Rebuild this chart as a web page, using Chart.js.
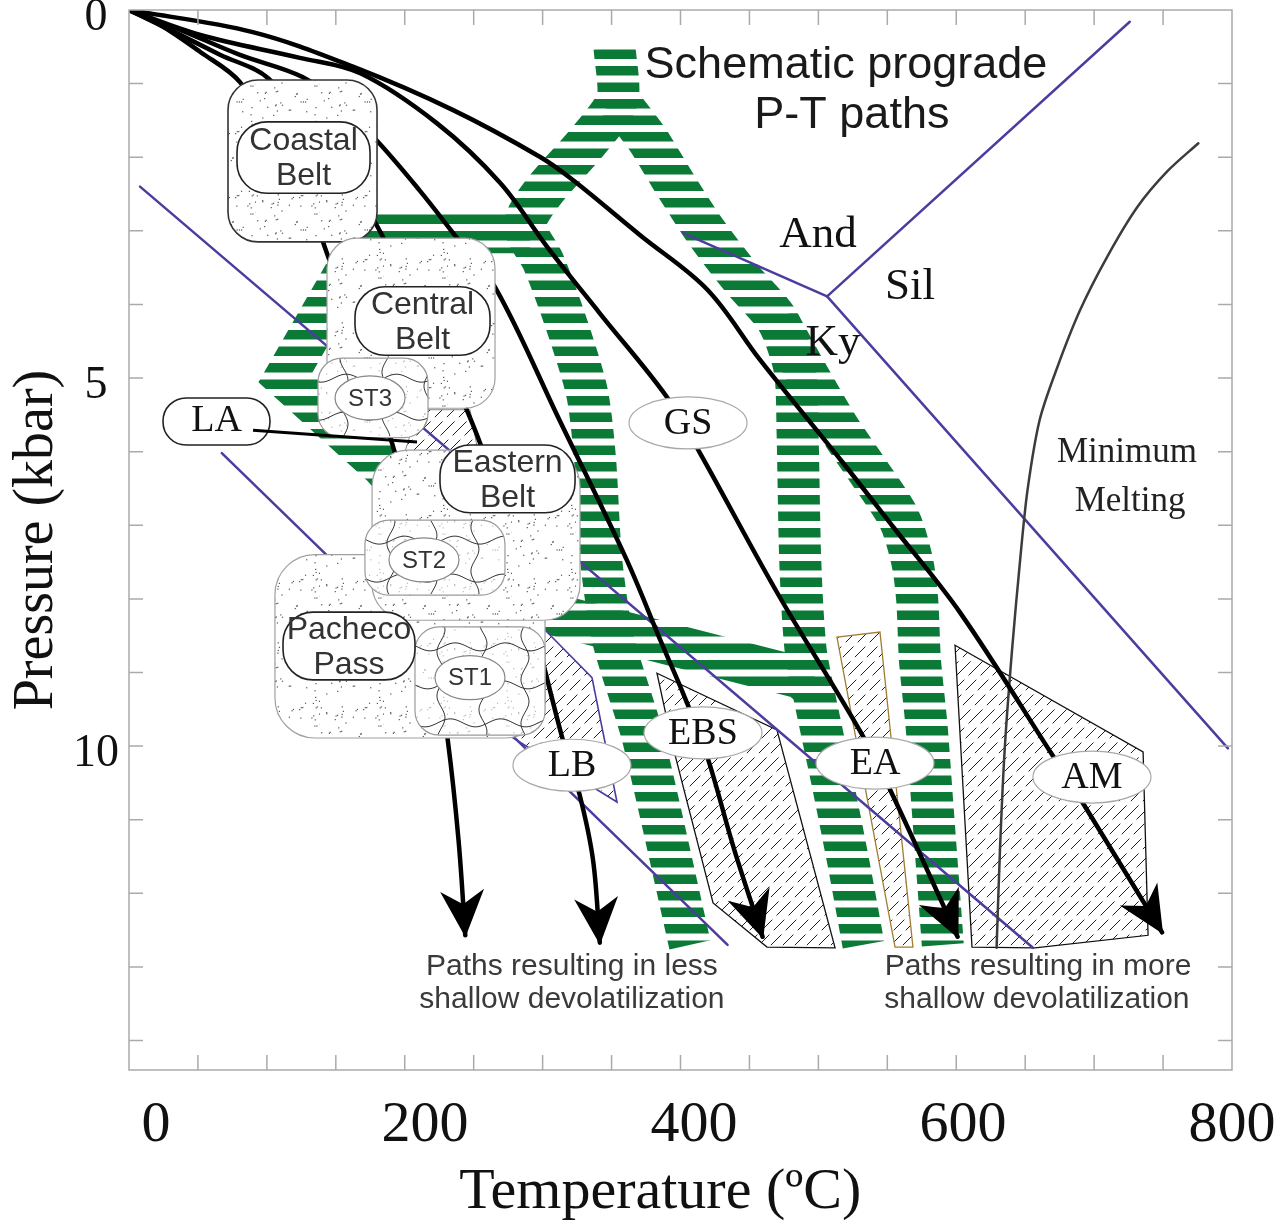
<!DOCTYPE html>
<html>
<head>
<meta charset="utf-8">
<title>Prograde P-T paths</title>
<script src="https://cdn.jsdelivr.net/npm/chart.js@4.4.1/dist/chart.umd.min.js"></script>
<style>
  html, body { margin: 0; padding: 0; background: #fff; }
  #wrap { width: 1287px; height: 1228px; }
</style>
</head>
<body>
<div id="wrap"><canvas id="pt" width="1287" height="1228"></canvas></div>
<script>
// Axis ticks
const xTickValues = [0, 200, 400, 600, 800];
const yTickValues = [0, 5, 10];

// Geotherms [T degC, P kbar], last point is the arrow tip
const geotherm1 = [[-20, 0], [3, 0.2], [33, 0.57], [62.5, 0.98], [100, 2.04], [129, 3.4], [176, 5.91], [200, 7.74], [217, 9.92], [225, 11.28], [230, 12.57]];
const geotherm2 = [[-20, 0], [10.5, 0.27], [48, 0.61], [83, 0.92], [129, 1.9], [167, 3.02], [196, 4.21], [231, 5.43], [263, 7.06], [280, 8.29], [302, 9.88], [315, 10.66], [325, 11.55], [330, 12.67]];
const geotherm3 = [[-20, 0], [18, 0.27], [62.5, 0.61], [109, 0.91], [137, 1.29], [164, 1.77], [196, 2.45], [221, 3.03], [252, 3.76], [300, 5.57], [350, 7.47], [375, 8.56], [393, 9.33], [410, 10.15], [430, 11.41], [451, 12.59]];
const geotherm4 = [[-20, 0], [33, 0.34], [107, 0.65], [152, 0.86], [209, 1.54], [256, 2.35], [291, 3.22], [330, 4.12], [380, 5.26], [404.5, 6.02], [462, 7.92], [523, 9.78], [546, 10.6], [596, 12.59]];
const geotherm5 = [[-20, 0], [72, 0.3], [146.5, 0.77], [221, 1.36], [286, 2.0], [310, 2.31], [360, 3.06], [410, 3.8], [449, 4.75], [509, 6.11], [548, 7.02], [598, 8.19], [665, 10.08], [689, 10.77], [748, 12.53]];

// Schematic prograde paths (striped bands)
const pathApex = [[341, 0.52], [343, 1.22], [319, 1.83], [289, 2.45], [274, 2.92], [288, 3.42], [306, 4.31], [320.5, 5.2], [326.5, 6.11], [331, 7.47], [340, 8.56], [362, 9.88], [397, 12.7]];
const pathWest = [[278, 3.02], [158, 3.02], [96, 5.0], [168, 6.19], [233.5, 7.54], [289, 8.18], [479, 9.07], [485, 9.16]];
const pathEast = [[343, 1.22], [366, 1.77], [384, 2.31], [408, 2.99], [436.5, 3.67], [462, 4.21], [475, 4.89], [477, 5.71], [479, 7.47], [483, 8.69], [490, 9.37], [502.6, 10.46], [514.5, 11.55], [526, 12.7]];
const pathEastBranch = [[462, 4.21], [482.5, 4.89], [507, 5.66], [529, 6.25], [552, 6.89], [562, 7.47], [566, 8.02], [568, 8.83], [573, 9.74], [577, 10.73], [585, 12.7]];

// Facies boundaries and aluminosilicate reactions
const boundaryUpper = [[-11.8, 2.4], [652, 12.74]];
const boundaryLower = [[49, 6.02], [425, 12.7]];
const andKy = [[392, 3.03], [499, 3.89]];
const andSil = [[499, 3.89], [724, 0.16]];
const kySil = [[499, 3.89], [797, 10.03]];
const minMelting = [[625, 12.74], [627.5, 11.41], [631, 10.05], [636.5, 8.69], [642.5, 7.47], [648, 6.52], [657, 5.57], [670, 4.86], [687, 4.08], [707, 3.36], [729.5, 2.68], [752, 2.19], [775, 1.81]];

// Hatched facies fields
const fieldEBS = [[372.5, 9.01], [461.7, 9.78], [504.9, 12.74], [454.3, 12.73], [414.2, 12.13], [384.4, 10.01]];
const fieldEA = [[506.3, 8.52], [538.3, 8.45], [562.8, 12.73], [549.5, 12.73]];
const fieldAM = [[594.1, 8.63], [733.9, 10.08], [737.6, 12.57], [653.5, 12.74], [606.7, 12.73]];
const fieldLB = [[283.3, 8.31], [324.2, 9.07], [342.8, 10.76], [259.5, 9.82]];
const fieldGap = [[194.8, 5.43], [233.5, 5.43], [239.5, 6.0], [185.2, 6.0]];

// Franciscan belts [Tmin, Pmin, Tmax, Pmax]
const beltCoastal = [53.6, 0.95, 164.4, 3.15];
const beltCentral = [127.2, 3.1, 252.1, 5.41];
const beltPacheco = [88.5, 7.4, 289.3, 9.89];
const beltEastern = [160.7, 5.98, 315.3, 8.29];
const unitST3 = [120.5, 4.73, 202.3, 5.81];
const unitST2 = [155.4, 6.93, 259.5, 7.95];
const unitST1 = [192.6, 8.38, 289.3, 9.85];
const tagCoastal = [60.3, 1.52, 159.2, 2.49];
const tagCentral = [148, 3.76, 248.4, 4.69];
const tagEastern = [211.2, 5.91, 311.6, 6.83];
const tagPacheco = [94.5, 8.18, 192.6, 9.1];
const tagLA = [5.3, 5.27, 84.8, 5.91];
const leaderLA = [[72.2, 5.71], [194.1, 5.87]];
const unitCentres = [['ST3', 159.2, 5.27], ['ST2', 199.3, 7.47], ['ST1', 233.5, 9.07]];

// Facies names
const faciesLabels = [['GS', 395.6, 5.61], ['EBS', 406.7, 9.82], ['LB', 309.3, 10.26], ['EA', 534.6, 10.23], ['AM', 695.9, 10.42]];
const mineralLabels = [['And', 492.2, 3.06], ['Sil', 560.6, 3.76], ['Ky', 503.4, 4.52]];
const meltLabels = [['Minimum', 721.9, 6.02], ['Melting', 724.2, 6.68]];
const titleLines = [['Schematic prograde', 513, 0.75], ['P-T paths', 517.4, 1.44]];
const noteLess = [['Paths resulting in less', 309.3, 13.0], ['shallow devolatilization', 309.3, 13.45]];
const noteMore = [['Paths resulting in more', 655.8, 13.0], ['shallow devolatilization', 655, 13.45]];

const SERIF = '"Liberation Serif", "DejaVu Serif", serif';
const SANS = '"Liberation Sans", Arial, sans-serif';
const GREEN = '#0b7a36';
const PURPLE = '#4c3c9e';

const canvas = document.getElementById('pt');
const ctx = canvas.getContext('2d');

function makeStripes() {
  const tile = document.createElement('canvas');
  tile.width = 4; tile.height = 33;
  const g = tile.getContext('2d');
  g.fillStyle = GREEN;
  g.fillRect(0, 0, 4, 9.5);
  g.fillRect(0, 16.5, 4, 9.5);
  return ctx.createPattern(tile, 'repeat');
}

function makeStipple() {
  const s = 64;
  const tile = document.createElement('canvas');
  tile.width = s; tile.height = s;
  const g = tile.getContext('2d');
  g.fillStyle = '#fff';
  g.fillRect(0, 0, s, s);
  let seed = 12345;
  const next = () => (seed = (seed * 16807) % 2147483647) / 2147483647;
  g.fillStyle = '#555';
  for (let i = 0; i < 60; i++) {
    g.fillRect(next() * s, next() * s, 1.2, 1.2);
  }
  return ctx.createPattern(tile, 'repeat');
}

function makeHatch() {
  const s = 48;
  const tile = document.createElement('canvas');
  tile.width = s; tile.height = s;
  const g = tile.getContext('2d');
  g.fillStyle = '#fff';
  g.fillRect(0, 0, s, s);
  g.strokeStyle = '#222';
  g.lineWidth = 1;
  g.setLineDash([15, 6]);
  for (let c = -s; c <= 2 * s; c += 12) {
    g.beginPath(); g.moveTo(c, s); g.lineTo(c + s, 0); g.stroke();
  }
  return ctx.createPattern(tile, 'repeat');
}

const stripes = makeStripes();
const stipple = makeStipple();
const hatch = makeHatch();

const toXY = pts => pts.map(([x, y]) => ({ x, y }));

const band = (pts, order, extra) => Object.assign({
  data: toXY(pts), showLine: true, borderColor: stripes, borderWidth: 42,
  borderCapStyle: 'butt', borderJoinStyle: 'round', tension: 0.25, order
}, extra || {});
const thinLine = (pts, color, width, order, tension) => ({
  data: toXY(pts), showLine: true, borderColor: color, borderWidth: width,
  borderCapStyle: 'round', tension: tension || 0, order
});

const geotherms = [geotherm1, geotherm2, geotherm3, geotherm4, geotherm5];

const datasets = [
  band(pathWest, 43, { tension: 0, borderJoinStyle: 'miter' }),
  band(pathEastBranch, 42),
  band(pathEast, 41),
  band(pathApex, 40, { role: 'lastBand' }),
  thinLine(boundaryUpper, PURPLE, 2.5, 20),
  thinLine(boundaryLower, PURPLE, 2.5, 20),
  thinLine(andKy, PURPLE, 2.5, 20),
  thinLine(andSil, PURPLE, 2.5, 20),
  thinLine(kySil, PURPLE, 2.5, 20),
  thinLine(minMelting, '#3c3c3c', 2.5, 15, 0.3),
  ...geotherms.map(g => thinLine(g, '#000', 4.5, 10, 0.35))
];

function px(chart, t, p) {
  return [chart.scales.x.getPixelForValue(t), chart.scales.y.getPixelForValue(p)];
}

function polyPath(c, chart, pts) {
  c.beginPath();
  pts.forEach(([t, p], i) => {
    const [X, Y] = px(chart, t, p);
    if (i) c.lineTo(X, Y); else c.moveTo(X, Y);
  });
  c.closePath();
}

function roundBox(c, chart, box, r) {
  const [x0, y0] = px(chart, box[0], box[1]);
  const [x1, y1] = px(chart, box[2], box[3]);
  c.beginPath();
  c.moveTo(x0 + r, y0);
  c.arcTo(x1, y0, x1, y1, r);
  c.arcTo(x1, y1, x0, y1, r);
  c.arcTo(x0, y1, x0, y0, r);
  c.arcTo(x0, y0, x1, y0, r);
  c.closePath();
  return [x0, y0, x1, y1];
}

function drawFields(chart) {
  const c = chart.ctx;
  c.save();
  const fields = [
    [fieldGap, '#888', 1],
    [fieldEBS, '#111', 1.3],
    [fieldEA, '#a07d32', 1.3],
    [fieldAM, '#111', 1.3],
    [fieldLB, PURPLE, 1.6]
  ];
  fields.forEach(([pts, edge, w]) => {
    polyPath(c, chart, pts);
    c.fillStyle = hatch;
    c.fill();
    c.strokeStyle = edge;
    c.lineWidth = w;
    c.lineJoin = 'miter';
    c.stroke();
  });
  c.restore();
}

function drawArrows(chart) {
  const c = chart.ctx;
  c.save();
  c.fillStyle = '#000';
  geotherms.forEach(g => {
    const [tx, ty] = px(chart, ...g[g.length - 1]);
    const [fx, fy] = px(chart, ...g[g.length - 2]);
    const a = Math.atan2(ty - fy, tx - fx);
    c.save();
    c.translate(tx, ty);
    c.rotate(a);
    c.beginPath();
    c.moveTo(2, 0);
    c.lineTo(-45, -22);
    c.lineTo(-31, 0);
    c.lineTo(-45, 22);
    c.closePath();
    c.fill();
    c.restore();
  });
  c.restore();
}

function wavyUnit(c, chart, box, name, centre) {
  const [x0, y0, x1, y1] = roundBox(c, chart, box, 24);
  c.fillStyle = stipple;
  c.fill();
  c.save();
  c.clip();
  c.fillStyle = 'rgba(255,255,255,0.6)';
  c.fillRect(x0, y0, x1 - x0, y1 - y0);
  c.strokeStyle = '#333';
  c.lineWidth = 1;
  for (let x = x0 + 26; x < x1; x += 42) {
    c.beginPath();
    for (let y = y0; y <= y1; y += 2) {
      const xx = x + 4 * Math.sin((y - y0) / 7 + x);
      if (y === y0) c.moveTo(xx, y); else c.lineTo(xx, y);
    }
    c.stroke();
  }
  for (let y = y0 + 20; y < y1; y += 38) {
    c.beginPath();
    for (let x = x0; x <= x1; x += 2) {
      const yy = y + 4 * Math.sin((x - x0) / 8 + y);
      if (x === x0) c.moveTo(x, yy); else c.lineTo(x, yy);
    }
    c.stroke();
  }
  c.restore();
  roundBox(c, chart, box, 24);
  c.strokeStyle = '#9a9a9a';
  c.lineWidth = 1.2;
  c.stroke();
  const [cx, cy] = px(chart, centre[1], centre[2]);
  c.beginPath();
  c.ellipse(cx, cy, 35, 22, 0, 0, Math.PI * 2);
  c.fillStyle = '#fff';
  c.fill();
  c.strokeStyle = '#888';
  c.lineWidth = 1.2;
  c.stroke();
  label(c, name, cx, cy + 1, '24px ' + SANS, '#333');
}

function label(c, text, x, y, font, color) {
  c.font = font;
  c.fillStyle = color;
  c.textAlign = 'center';
  c.textBaseline = 'middle';
  c.fillText(text, x, y);
}

function stippleBelt(c, chart, box, edge, r) {
  roundBox(c, chart, box, r);
  c.fillStyle = stipple;
  c.fill();
  c.strokeStyle = edge;
  c.lineWidth = edge === '#333' ? 1.6 : 1.2;
  c.stroke();
}

function nameTag(c, chart, box, lines, r) {
  const [x0, y0, x1, y1] = roundBox(c, chart, box, r);
  c.fillStyle = '#fff';
  c.fill();
  c.strokeStyle = '#222';
  c.lineWidth = 1.6;
  c.stroke();
  const cx = (x0 + x1) / 2, cy = (y0 + y1) / 2;
  if (lines.length === 2) {
    label(c, lines[0], cx, cy - 16, '32px ' + SANS, '#333');
    label(c, lines[1], cx, cy + 19, '32px ' + SANS, '#333');
  } else {
    label(c, lines[0], cx, cy, '38px ' + SERIF, '#111');
  }
}

function drawBelts(chart) {
  const c = chart.ctx;
  c.save();
  stippleBelt(c, chart, beltCoastal, '#333', 30);
  stippleBelt(c, chart, beltCentral, '#a0a0a0', 30);
  wavyUnit(c, chart, unitST3, unitCentres[0][0], unitCentres[0]);
  stippleBelt(c, chart, beltPacheco, '#a0a0a0', 40);
  wavyUnit(c, chart, unitST1, unitCentres[2][0], unitCentres[2]);
  stippleBelt(c, chart, beltEastern, '#a0a0a0', 36);
  wavyUnit(c, chart, unitST2, unitCentres[1][0], unitCentres[1]);

  nameTag(c, chart, tagCoastal, ['Coastal', 'Belt'], 30);
  nameTag(c, chart, tagCentral, ['Central', 'Belt'], 30);
  nameTag(c, chart, tagEastern, ['Eastern', 'Belt'], 30);
  nameTag(c, chart, tagPacheco, ['Pacheco', 'Pass'], 30);
  nameTag(c, chart, tagLA, ['LA'], 23);

  // leader from LA to the lawsonite-albite field
  const [ax, ay] = px(chart, ...leaderLA[0]);
  const [bx, by] = px(chart, ...leaderLA[1]);
  c.beginPath();
  c.moveTo(ax, ay);
  c.lineTo(bx, by);
  c.strokeStyle = '#000';
  c.lineWidth = 3;
  c.stroke();
  c.restore();
}

function drawTags(chart) {
  const c = chart.ctx;
  c.save();
  faciesLabels.forEach(([name, t, p]) => {
    const [cx, cy] = px(chart, t, p);
    c.beginPath();
    c.ellipse(cx, cy, 59, 26, 0, 0, Math.PI * 2);
    c.fillStyle = '#fff';
    c.fill();
    c.strokeStyle = '#a8a8a8';
    c.lineWidth = 1.2;
    c.stroke();
    label(c, name, cx, cy + 1, '38px ' + SERIF, '#111');
  });
  c.restore();
}

function drawNotes(chart) {
  const c = chart.ctx;
  c.save();
  titleLines.forEach(([s, t, p]) => label(c, s, ...px(chart, t, p), '45px ' + SANS, '#1a1a1a'));
  mineralLabels.forEach(([s, t, p]) => label(c, s, ...px(chart, t, p), '45px ' + SERIF, '#111'));
  meltLabels.forEach(([s, t, p]) => label(c, s, ...px(chart, t, p), '35px ' + SERIF, '#222'));
  noteLess.concat(noteMore).forEach(([s, t, p]) => label(c, s, ...px(chart, t, p), '30px ' + SANS, '#3a3a3a'));
  c.restore();
}

function drawFrame(chart) {
  const c = chart.ctx;
  const { left, right, top, bottom } = chart.chartArea;
  const xs = chart.scales.x;
  const ys = chart.scales.y;
  const xSteps = 16;
  c.save();
  c.strokeStyle = '#aaaaaa';
  c.lineWidth = 1.5;
  c.strokeRect(left, top, right - left, bottom - top);
  c.beginPath();
  for (let k = 1; k < xSteps; k++) {
    const x = xs.getPixelForValue(xs.min + k * (xs.max - xs.min) / xSteps);
    c.moveTo(x, bottom); c.lineTo(x, bottom - 15);
    c.moveTo(x, top); c.lineTo(x, top + 15);
  }
  for (let p = 1; p <= 14; p++) {
    const y = ys.getPixelForValue(p);
    c.moveTo(left, y); c.lineTo(left + 14, y);
    c.moveTo(right, y); c.lineTo(right - 14, y);
  }
  c.stroke();
  c.restore();
}

const decor = {
  id: 'decor',
  afterDatasetDraw(chart, args) {
    if (chart.data.datasets[args.index].role === 'lastBand') drawFields(chart);
  },
  afterDatasetsDraw(chart) {
    drawArrows(chart);
    drawBelts(chart);
    drawTags(chart);
    drawNotes(chart);
    drawFrame(chart);
  }
};

new Chart(ctx, {
  type: 'scatter',
  data: { datasets },
  options: {
    responsive: false,
    animation: false,
    events: [],
    layout: { autoPadding: false, padding: { top: 10, right: 55, bottom: 0, left: 0 } },
    elements: { point: { radius: 0 } },
    plugins: { legend: { display: false }, tooltip: { enabled: false } },
    scales: {
      x: {
        type: 'linear', position: 'bottom', min: -20, max: 800,
        grid: { display: false, drawTicks: false },
        border: { display: false },
        afterBuildTicks: axis => { axis.ticks = xTickValues.map(value => ({ value })); },
        afterFit: axis => { axis.height = 158; axis.paddingLeft = 0; axis.paddingRight = 0; },
        ticks: { autoSkip: false, maxRotation: 0, padding: 21, color: '#111', font: { family: SERIF, size: 58 } },
        // trailing spaces pull the centred title a little to the left
        title: { display: true, text: 'Temperature (ºC)\u2002\u2009', color: '#111', font: { family: SERIF, size: 58 }, padding: 0 }
      },
      y: {
        type: 'linear', position: 'left', reverse: true, min: 0, max: 14.4,
        grid: { display: false, drawTicks: false },
        border: { display: false },
        afterBuildTicks: axis => { axis.ticks = yTickValues.map(value => ({ value })); },
        afterFit: axis => { axis.width = 129; axis.paddingTop = 0; axis.paddingBottom = 0; },
        ticks: { autoSkip: false, crossAlign: 'center', padding: 10, labelOffset: 8, color: '#111', font: { family: SERIF, size: 46 } },
        title: { display: true, text: 'Pressure (kbar)', color: '#111', font: { family: SERIF, size: 56 }, padding: { top: 4, bottom: 0 } }
      }
    }
  },
  plugins: [decor]
});
</script>
</body>
</html>
